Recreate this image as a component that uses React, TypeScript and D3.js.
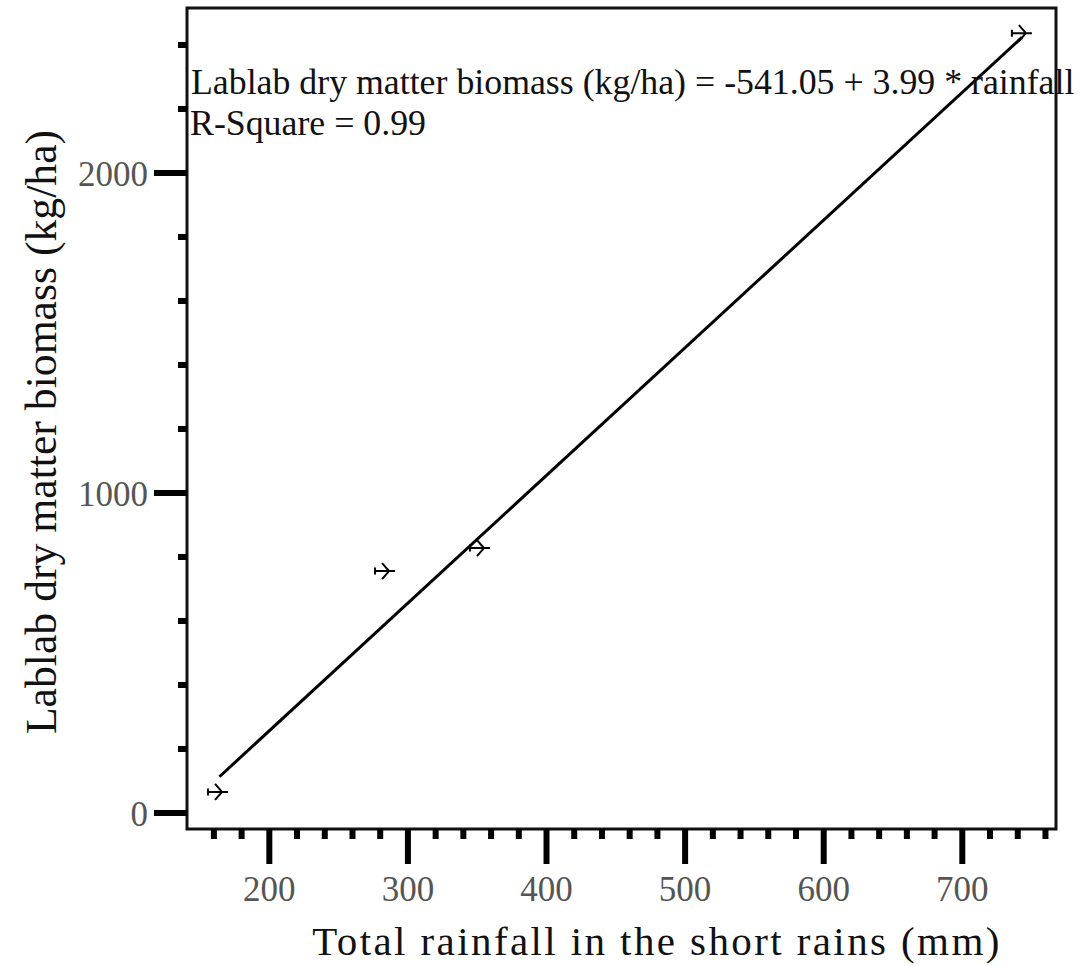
import React from "react";
import * as d3 from "d3";

const rainfall = [163, 283.5, 352, 743];
const biomass = [66, 756, 828, 2437];
const xMajorTicks = [200, 300, 400, 500, 600, 700];
const xMinorTicks = [160, 180, 220, 240, 260, 280, 320, 340, 360, 380, 420, 440, 460, 480, 520, 540, 560, 580, 620, 640, 660, 680, 720, 740, 760];
const yMajorTicks = [0, 1000, 2000];
const yMinorTicks = [200, 400, 600, 800, 1200, 1400, 1600, 1800, 2200, 2400];
const fitIntercept = -541.05;
const fitSlope = 3.99;
const fitRange = [164, 743];
const equationText = "Lablab dry matter biomass (kg/ha) = -541.05 + 3.99 * rainfall";
const rsqText = "R-Square = 0.99";
const xTitle = "Total rainfall in the short rains (mm)";
const yTitle = "Lablab dry matter biomass (kg/ha)";

const W = 1084, H = 966;
const L = 187, R = 1056, T = 8, B = 829;
const serif = "'Liberation Serif', 'Times New Roman', serif";

export default function App() {
  const x = d3.scaleLinear().domain([140.6, 767.6]).range([L, R]);
  const y = d3.scaleLinear().domain([-50, 2515.6]).range([B, T]);
  const fitLine = d3.line<number>().x(d => x(d)).y(d => y(fitIntercept + fitSlope * d));
  const plane = "M-10,0 L10,0 M-3,-8 L4,0 L-3,8 M-10,-3.5 L-10,3.5";
  return (
    <svg width={W} height={H} style={{ position: "absolute", left: 0, top: 0, background: "#fff" }} fontFamily={serif}>
      <rect x={0} y={0} width={W} height={H} fill="#fff" />
      {/* frame */}
      <rect x={L} y={T} width={R - L} height={B - T} fill="none" stroke="#111" strokeWidth={3} />
      {/* y ticks */}
      {yMajorTicks.map(v => (
        <line key={"ym" + v} x1={154} x2={L} y1={y(v)} y2={y(v)} stroke="#000" strokeWidth={6} />
      ))}
      {yMinorTicks.map(v => (
        <line key={"yn" + v} x1={178} x2={L} y1={y(v)} y2={y(v)} stroke="#000" strokeWidth={6} />
      ))}
      {yMajorTicks.map(v => (
        <text key={"yl" + v} x={148} y={y(v) + 13} textAnchor="end" fontSize={35} fill="#555">{v}</text>
      ))}
      {/* x ticks */}
      {xMajorTicks.map(v => (
        <line key={"xm" + v} x1={x(v)} x2={x(v)} y1={B} y2={864} stroke="#000" strokeWidth={6} />
      ))}
      {xMinorTicks.map(v => (
        <line key={"xn" + v} x1={x(v)} x2={x(v)} y1={B} y2={839} stroke="#000" strokeWidth={6} />
      ))}
      {xMajorTicks.map(v => (
        <text key={"xl" + v} x={x(v)} y={901} textAnchor="middle" fontSize={35} fill="#555">{v}</text>
      ))}
      {/* fit line */}
      <path d={fitLine(fitRange) || ""} fill="none" stroke="#000" strokeWidth={3} />
      {/* points */}
      {rainfall.map((r, i) => (
        <path key={"p" + i} d={plane} transform={`translate(${x(r)},${y(biomass[i])})`} fill="none" stroke="#000" strokeWidth={2} />
      ))}
      {/* equation */}
      <text x={191} y={94} fontSize={35.8} fill="#111">{equationText}</text>
      <text x={190} y={135} fontSize={35.8} fill="#111">{rsqText}</text>
      {/* titles */}
      <text x={657} y={955} textAnchor="middle" fontSize={41} letterSpacing={2.4} fill="#111">{xTitle}</text>
      <text transform="translate(56,432) rotate(-90)" textAnchor="middle" fontSize={43.7} fill="#111">{yTitle}</text>
    </svg>
  );
}
